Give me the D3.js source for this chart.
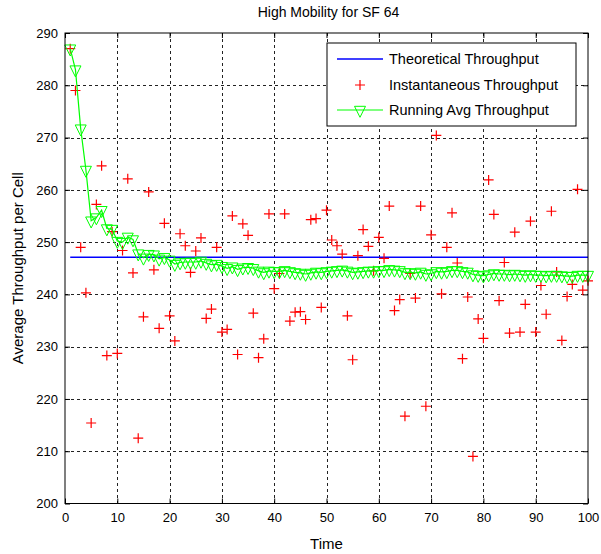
<!DOCTYPE html>
<html><head><meta charset="utf-8">
<script src="https://cdn.jsdelivr.net/npm/d3@7"></script>
<style>
body{margin:0;background:#fff;}
text{font-family:"Liberation Sans",Arial,Helvetica,sans-serif;fill:#000;}
</style>
</head><body>
<svg id="c" width="601" height="554"></svg>
<script>
// ---- data ----
const time = d3.range(1, 101);
const instantaneous = [
 287.0,279.0,249.0,240.3,215.4,257.2,264.6,228.3,252.0,228.7,
 248.4,262.1,244.1,212.5,235.7,259.6,244.7,233.5,253.6,235.9,
 231.1,251.6,249.3,244.2,248.3,250.8,235.4,237.2,249.0,232.8,
 233.3,255.0,228.5,253.5,251.3,236.4,227.9,231.5,255.4,241.1,
 244.0,255.4,234.9,236.6,236.7,235.2,254.3,254.5,237.5,256.1,
 250.4,249.3,247.7,235.9,227.5,247.4,252.4,249.2,244.5,250.9,
 246.9,256.9,236.9,239.0,216.7,244.0,239.3,256.9,218.6,251.4,
 270.4,240.1,249.0,255.6,246.0,227.7,239.5,209.0,235.3,231.6,
 261.9,255.3,238.8,246.1,232.6,251.9,232.8,238.1,254.0,232.8,
 241.7,236.2,255.9,244.3,231.2,239.6,241.9,260.1,240.8,242.6];
const runningAvg = [
 287.0,283.0,271.7,263.8,254.1,254.7,256.1,252.6,252.5,250.2,
 250.0,251.0,250.5,247.8,247.0,247.7,247.6,246.8,247.1,246.6,
 245.8,246.1,246.2,246.2,246.2,246.4,246.0,245.7,245.8,245.4,
 245.0,245.3,244.8,245.1,245.2,245.0,244.5,244.2,244.5,244.4,
 244.4,244.6,244.4,244.2,244.1,243.9,244.1,244.3,244.2,244.4,
 244.5,244.6,244.7,244.5,244.2,244.3,244.4,244.5,244.5,244.6,
 244.6,244.8,244.7,244.6,244.2,244.2,244.1,244.3,243.9,244.0,
 244.4,244.3,244.4,244.6,244.6,244.4,244.3,243.8,243.7,243.6,
 243.8,244.0,243.9,243.9,243.8,243.9,243.8,243.7,243.8,243.7,
 243.7,243.6,243.7,243.7,243.6,243.5,243.5,243.7,243.7,243.7];
const theoretical = 247.1;
const xTicks = [0,10,20,30,40,50,60,70,80,90,100];
const yTicks = [200,210,220,230,240,250,260,270,280,290];
const legendLabels = ["Theoretical Throughput","Instantaneous Throughput","Running Avg Throughput"];
const titleText = "High Mobility for SF 64";
const xLabel = "Time";
const yLabel = "Average Throughput per Cell";

// ---- layout ----
const L = 65, R = 588, T = 33, B = 503.5;
const svg = d3.select("#c");
svg.append("rect").attr("width",601).attr("height",554).attr("fill","#fff");
const x = d3.scaleLinear().domain([0,100]).range([L,R]);
const y = d3.scaleLinear().domain([200,290]).range([B,T]);

// grid
const g = svg.append("g");
g.selectAll(".gx").data(xTicks.slice(1,-1)).join("line")
 .attr("x1",d=>Math.round(x(d))+0.5).attr("x2",d=>Math.round(x(d))+0.5)
 .attr("y1",T).attr("y2",B)
 .attr("stroke","#222").attr("stroke-width",1).attr("stroke-dasharray","3,3");
g.selectAll(".gy").data(yTicks.slice(1,-1)).join("line")
 .attr("y1",d=>Math.round(y(d))+0.5).attr("y2",d=>Math.round(y(d))+0.5)
 .attr("x1",L).attr("x2",R)
 .attr("stroke","#222").attr("stroke-width",1).attr("stroke-dasharray","3,3");

// axes
const fs = "13px";
const ax = svg.append("g").attr("transform",`translate(0,${B})`)
 .call(d3.axisBottom(x).tickValues(xTicks).tickSizeInner(-5).tickSizeOuter(0).tickPadding(9));
const ay = svg.append("g").attr("transform",`translate(${L},0)`)
 .call(d3.axisLeft(y).tickValues(yTicks).tickSizeInner(-5).tickSizeOuter(0).tickPadding(7));
const at = svg.append("g").attr("transform",`translate(0,${T})`)
 .call(d3.axisTop(x).tickValues(xTicks).tickSizeInner(-5).tickSizeOuter(0).tickFormat(""));
const ar = svg.append("g").attr("transform",`translate(${R},0)`)
 .call(d3.axisRight(y).tickValues(yTicks).tickSizeInner(-5).tickSizeOuter(0).tickFormat(""));
[ax,ay,at,ar].forEach(a=>{
  a.select(".domain").remove();
  a.selectAll("line").attr("stroke","#000");
  a.selectAll("text").style("font-size",fs).attr("font-family",null);
});

// theoretical line
svg.append("line")
 .attr("x1",x(time[0])).attr("x2",x(time[time.length-1]))
 .attr("y1",y(theoretical)).attr("y2",y(theoretical))
 .attr("stroke","#0000ff").attr("stroke-width",1.3);

// instantaneous: red plus
const plus = "M-5,0H5M0,-5V5";
svg.append("g").selectAll("path").data(time).join("path")
 .attr("transform",(d,i)=>`translate(${x(d)},${y(instantaneous[i])})`)
 .attr("d",plus).attr("stroke","#ff0000").attr("stroke-width",1.2).attr("fill","none");

// running average
svg.append("path").datum(time)
 .attr("d",d3.line().x(d=>x(d)).y((d,i)=>y(runningAvg[i])))
 .attr("fill","none").attr("stroke","#00ff00").attr("stroke-width",1.2);
const tri = "M-5.5,-3.7L5.5,-3.7L0,7.3Z";
svg.append("g").selectAll("path").data(time).join("path")
 .attr("transform",(d,i)=>`translate(${x(d)},${y(runningAvg[i])})`)
 .attr("d",tri).attr("stroke","#00ff00").attr("stroke-width",1).attr("fill","none");

// border
svg.append("rect").attr("x",L).attr("y",T).attr("width",R-L).attr("height",B-T)
 .attr("fill","none").attr("stroke","#000").attr("stroke-width",1);

// title and labels
svg.append("text").attr("x",(L+R)/2+2).attr("y",17).attr("text-anchor","middle")
 .style("font-size","14px").text(titleText);
svg.append("text").attr("x",(L+R)/2).attr("y",549).attr("text-anchor","middle")
 .style("font-size","15px").text(xLabel);
svg.append("text").attr("transform",`translate(23,${(T+B)/2}) rotate(-90)`)
 .attr("text-anchor","middle").style("font-size","15px").text(yLabel);

// legend
const lg = svg.append("g");
lg.append("rect").attr("x",327).attr("y",43).attr("width",249).attr("height",83)
 .attr("fill","#fff").attr("stroke","#000").attr("stroke-width",1);
const rows = [59,85,110];
lg.append("line").attr("x1",337).attr("x2",383).attr("y1",rows[0]).attr("y2",rows[0])
 .attr("stroke","#0000ff").attr("stroke-width",1.3);
lg.append("path").attr("transform",`translate(360,${rows[1]})`).attr("d",plus)
 .attr("stroke","#ff0000").attr("stroke-width",1.2);
lg.append("line").attr("x1",337).attr("x2",383).attr("y1",rows[2]).attr("y2",rows[2])
 .attr("stroke","#00ff00").attr("stroke-width",1.2);
lg.append("path").attr("transform",`translate(360,${rows[2]})`).attr("d",tri)
 .attr("stroke","#00ff00").attr("fill","none");
lg.selectAll("text.l").data(legendLabels).join("text")
 .attr("x",389).attr("y",(d,i)=>rows[i]).attr("dy","0.35em")
 .style("font-size","14.5px").text(d=>d);
</script>
</body></html>
